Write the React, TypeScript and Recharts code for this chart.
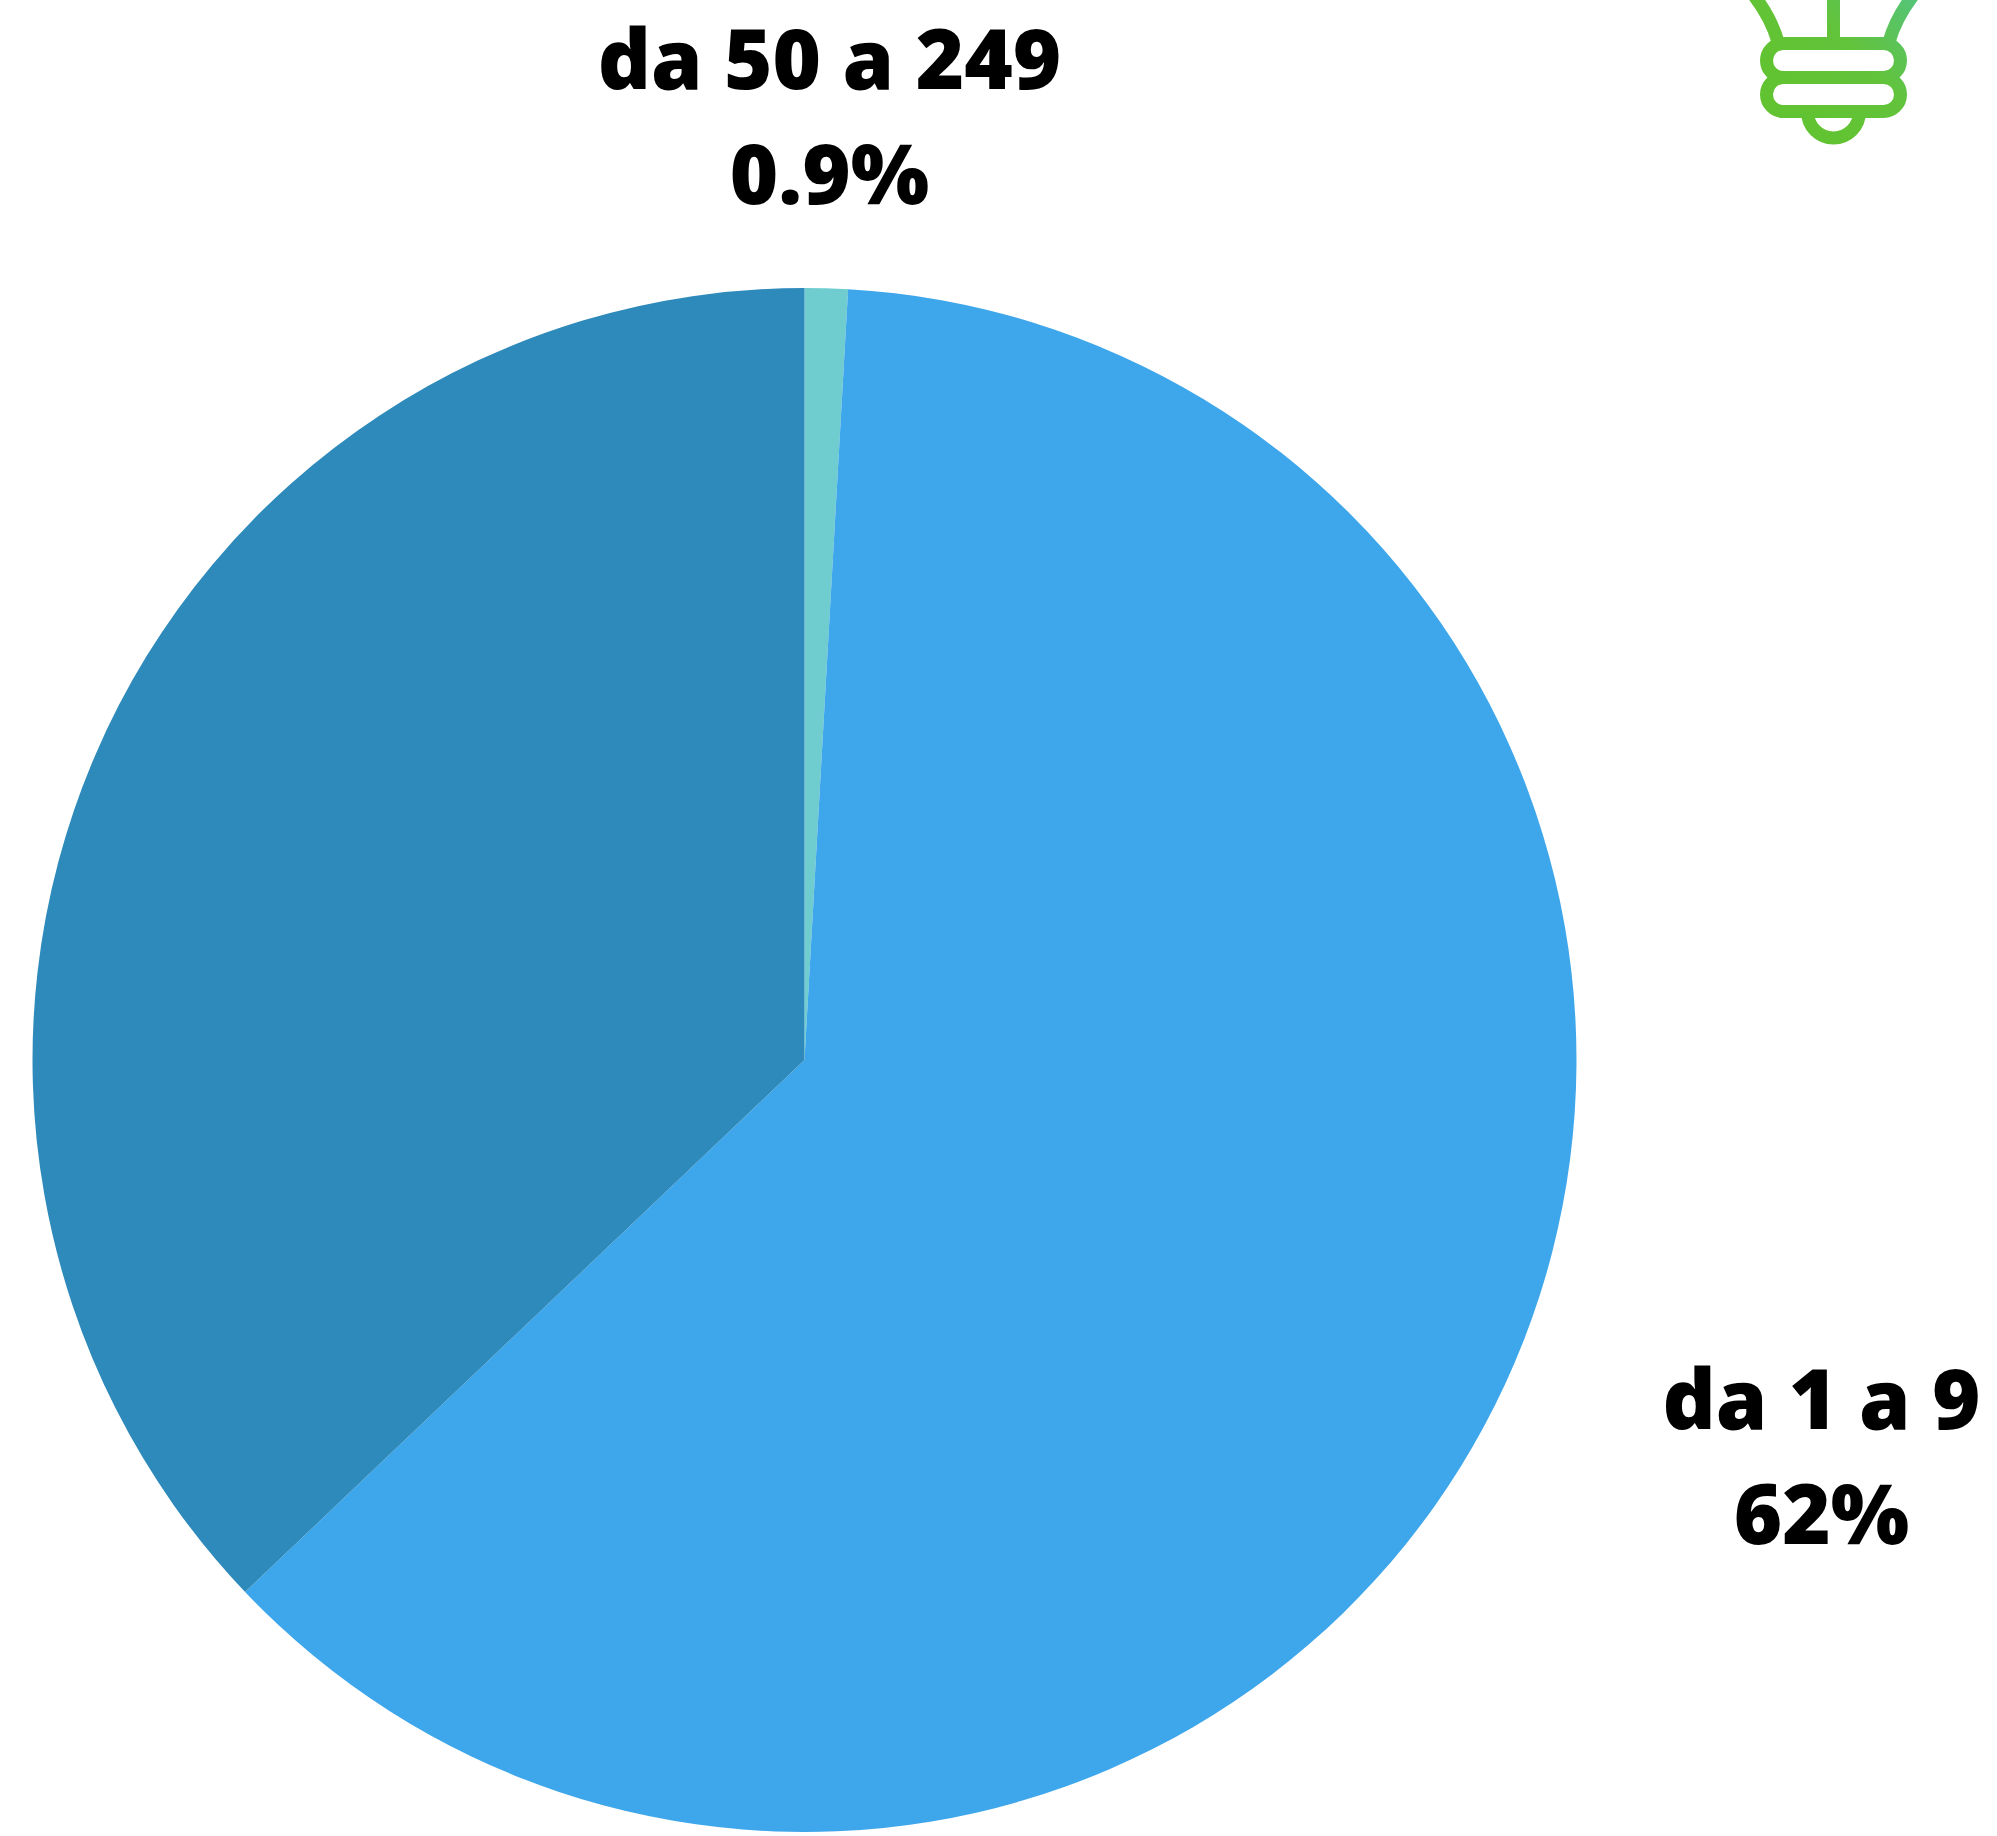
import React from "react";
import { PieChart, Pie, Cell } from "recharts";

const categories = ["da 50 a 249", "da 1 a 9", "da 10 a 49"];
const values = [0.9, 62, 37.1];
const valueLabels = ["0.9%", "62%", ""];
const sliceColors = ["#6FCDD0", "#3EA6EB", "#2D8ABB"];

const data = categories.map((name, i) => ({ name, value: values[i], text: valueLabels[i] }));

const FONT = "'Noto Sans', 'Open Sans', sans-serif";
const labelPlacement: Record<number, { dx: number; dy: number }> = {
  0: { dx: 25, dy: -971 },
  1: { dx: 1017, dy: 369 },
};

const renderLabel = (p: any) => {
  const place = labelPlacement[p.index];
  if (!place) return null;
  const x = p.cx + place.dx;
  const y = p.cy + place.dy;
  const style = {
    fontFamily: FONT,
    fontWeight: 900,
    fontSize: 82.8,
  } as React.CSSProperties;
  return (
    <text x={x} y={y} textAnchor="middle" fill="#000000" style={style}>
      <tspan x={x} y={y}>{categories[p.index]}</tspan>
      <tspan x={x} y={y + 115}>{valueLabels[p.index]}</tspan>
    </text>
  );
};

const BulbIcon = () => (
  <g fill="none" stroke="url(#bulbGrad)" strokeWidth={13}>
    <defs>
      <linearGradient id="bulbGrad" gradientUnits="userSpaceOnUse" x1="1800" y1="90" x2="1915" y2="-10">
        <stop offset="0" stopColor="#62C332" />
        <stop offset="0.45" stopColor="#62C33C" />
        <stop offset="1" stopColor="#53C47C" />
      </linearGradient>
    </defs>
    <rect x={1766.5} y={43.5} width={134} height={34} rx={17} />
    <rect x={1766.5} y={77.5} width={134} height={34} rx={17} />
    <path d="M1807.5 112 A26 26 0 0 0 1859.5 112" />
    <path d="M1833.5 -5 V43" />
    <path d="M1778 42 Q1771 17 1752 -7" />
    <path d="M1889 42 Q1896 17 1915 -7" />
  </g>
);

export default function App() {
  return (
    <div style={{ position: "absolute", left: 0, top: 0, width: 1997, height: 1836, overflow: "hidden", background: "#fff" }}>
      <PieChart width={1997} height={1836} margin={{ top: 0, right: 0, bottom: 0, left: 0 }}>
        <Pie
          data={data}
          dataKey="value"
          nameKey="name"
          cx={804.5}
          cy={1060}
          innerRadius={0}
          outerRadius={772}
          startAngle={90}
          endAngle={-270}
          stroke="none"
          label={renderLabel}
          labelLine={false}
          isAnimationActive={false}
        >
          {data.map((d, i) => (
            <Cell key={d.name} fill={sliceColors[i]} stroke="none" />
          ))}
        </Pie>
        <BulbIcon />
      </PieChart>
    </div>
  );
}
